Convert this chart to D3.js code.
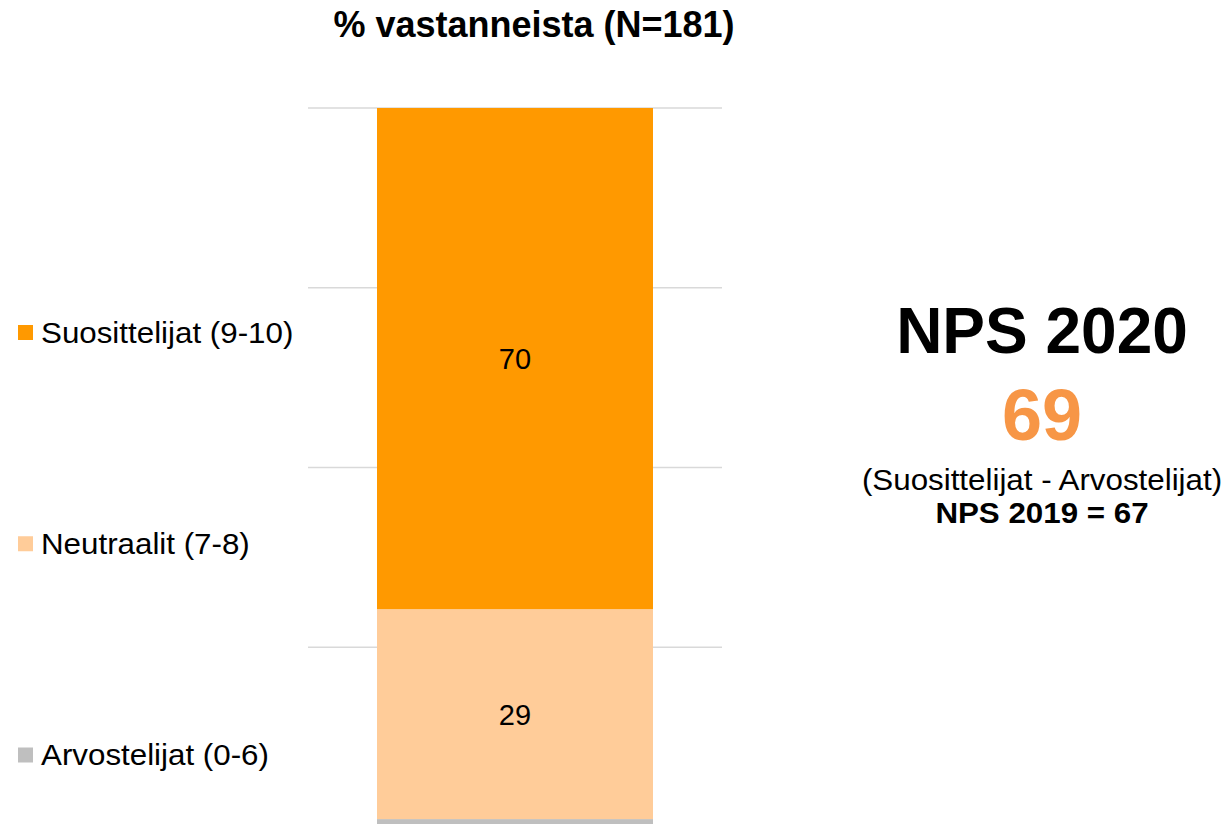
<!DOCTYPE html>
<html>
<head>
<meta charset="utf-8">
<script src="https://cdn.jsdelivr.net/npm/d3@7"></script>
<style>
body { margin: 0; background: #fff; }
text { font-family: Arial, "Liberation Sans", sans-serif; }
</style>
</head>
<body>
<div id="chart"></div>
<script>
var categories = ["Arvostelijat (0-6)", "Neutraalit (7-8)", "Suosittelijat (9-10)"];
var values = [1.1, 29.2, 69.7];
var colors = ["#BFBFBF", "#FFCC99", "#FF9900"];
var legendOrder = ["Suosittelijat (9-10)", "Neutraalit (7-8)", "Arvostelijat (0-6)"];
var gridTicks = [0, 25, 50, 75, 100];
var title = "% vastanneista (N=181)";
var npsTitle = "NPS 2020";
var npsValue = 69;
var npsNote = "(Suosittelijat - Arvostelijat)";
var npsPrev = "NPS 2019 = 67";

var width = 1231;
var height = 824;
var stretch = 1.08; // the small text in the original is a bit wider than Arial

var svg = d3.select("#chart")
	.append("svg")
	.attr("width", width)
	.attr("height", height);

var y = d3.scaleLinear().domain([0, 100]).range([827, 108]);
var x = d3.scaleBand().domain(["all"]).range([308, 722]).paddingInner(0).paddingOuter(0.25);

// draws text at (tx,ty), stretched horizontally
function wideText(tx, ty, anchor, size, weight, str) {
	var g = svg.append("g").attr("transform", "translate(" + tx + "," + ty + ")");
	return g.append("text")
		.attr("transform", "scale(" + stretch + ",1)")
		.attr("text-anchor", anchor)
		.style("font-size", size + "px")
		.style("font-weight", weight)
		.style("fill", "#000")
		.text(str);
}

// gridlines
svg.selectAll(".grid")
	.data(gridTicks)
	.enter().append("line")
	.attr("class", "grid")
	.attr("x1", 308)
	.attr("x2", 722)
	.attr("y1", function(d) { return y(d); })
	.attr("y2", function(d) { return y(d); })
	.style("stroke", "#d9d9d9")
	.style("stroke-width", 1.5);

// stacked segments
var stackData = [];
var acc = 0;
for (var i = 0; i < values.length; i++) {
	stackData.push({ name: categories[i], v0: acc, v1: acc + values[i], value: values[i], color: colors[i] });
	acc += values[i];
}

svg.selectAll(".seg")
	.data(stackData)
	.enter().append("rect")
	.attr("class", "seg")
	.attr("x", x("all"))
	.attr("width", x.bandwidth())
	.attr("y", function(d) { return y(d.v1); })
	.attr("height", function(d) { return y(d.v0) - y(d.v1); })
	.style("fill", function(d) { return d.color; });

// value labels (skip the tiny one)
svg.selectAll(".vlabel")
	.data(stackData.filter(function(d) { return d.value > 5; }))
	.enter().append("text")
	.attr("class", "vlabel")
	.attr("x", x("all") + x.bandwidth() / 2)
	.attr("y", function(d) { return (y(d.v0) + y(d.v1)) / 2; })
	.attr("dy", "0.36em")
	.attr("text-anchor", "middle")
	.style("font-size", "29px")
	.style("fill", "#000")
	.text(function(d) { return Math.round(d.value); });

// title
svg.append("text")
	.attr("x", 534)
	.attr("y", 37)
	.attr("text-anchor", "middle")
	.style("font-size", "36px")
	.style("font-weight", "bold")
	.text(title);

// legend
var ly = d3.scalePoint().domain(legendOrder).range([332.5, 755]);
legendOrder.forEach(function(d) {
	svg.append("rect")
		.attr("x", 18)
		.attr("y", ly(d) - 7.5)
		.attr("width", 15)
		.attr("height", 15)
		.style("fill", colors[categories.indexOf(d)]);
	wideText(41, ly(d) + 10.4, "start", 29, "normal", d);
});

// NPS box
var cx = 1042;
svg.append("text")
	.attr("x", cx)
	.attr("y", 353)
	.attr("text-anchor", "middle")
	.style("font-size", "64px")
	.style("font-weight", "bold")
	.text(npsTitle);

svg.append("text")
	.attr("x", cx)
	.attr("y", 440)
	.attr("text-anchor", "middle")
	.style("font-size", "72px")
	.style("font-weight", "bold")
	.style("fill", "#F79646")
	.text(npsValue);

wideText(cx, 490, "middle", 29, "normal", npsNote);
wideText(cx, 523, "middle", 29, "bold", npsPrev);
</script>
</body>
</html>
